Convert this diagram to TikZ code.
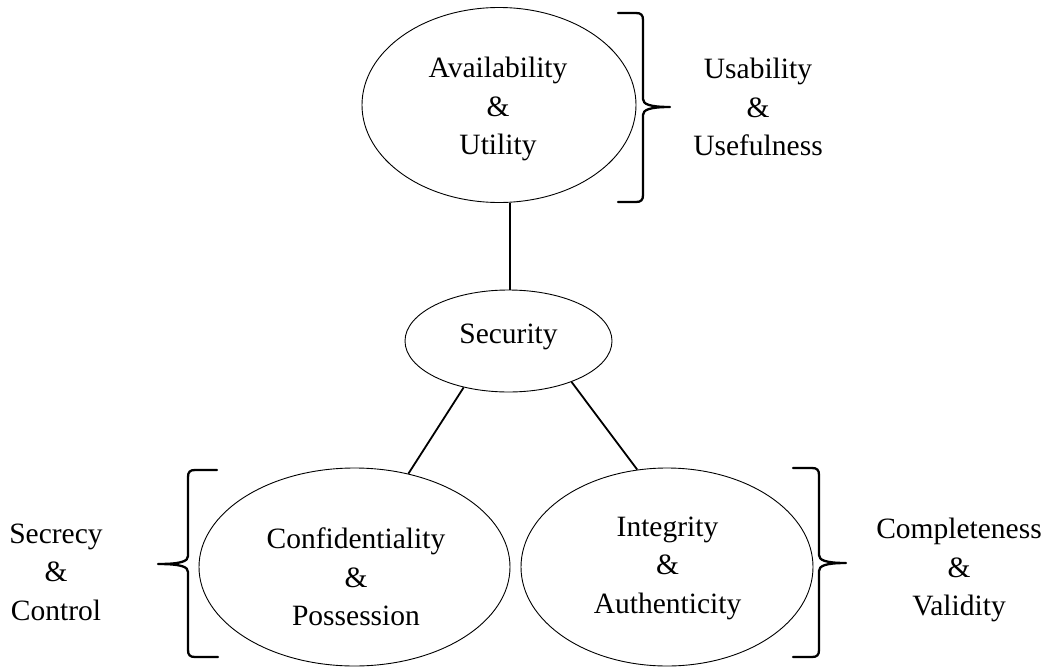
\documentclass[tikz,border=0pt]{standalone}
\usepackage{fontspec}
\setmainfont{Liberation Serif}
\usetikzlibrary{shapes.geometric}

\tikzset{
  oval/.style={ellipse, draw, inner sep=0pt, line width=0.9pt},
  txt/.style={align=center, inner sep=0pt, font=\fontsize{29.5}{38.5}\selectfont},
  link/.style={line width=1.8pt},
  brace/.style={line width=2.3pt, line cap=round, line join=round}
}

\begin{document}
\begin{tikzpicture}[x=1pt, y=-1pt]
  \useasboundingbox (0,0) rectangle (1050,672);

  % ellipses
  \node[oval, minimum width=274pt, minimum height=195pt] (avail) at (499,105) {};
  \node[oval, minimum width=207pt, minimum height=102pt] (sec) at (508.5,341) {};
  \node[oval, minimum width=311pt, minimum height=198pt] (conf) at (354.5,567) {};
  \node[oval, minimum width=292pt, minimum height=198pt] (integ) at (667,567) {};

  % texts inside the ellipses
  \node[txt] (availtext) at (498,109) {Availability\\\&\\Utility};
  \node[txt] (sectext) at (508.5,337) {Security};
  \node[txt] (conftext) at (356,577) {Confidentiality\\\&\\Possession};
  \node[txt] (integtext) at (667.5,568) {Integrity\\\&\\Authenticity};

  % side labels
  \node[txt] (usetext) at (758,107) {Usability\\\&\\Usefulness};
  \node[txt] (secrtext) at (56,572) {Secrecy\\\&\\Control};
  \node[txt] (comptext) at (959,570) {Completeness\\\&\\Validity};

  % connectors
  \draw[link] (sec.88) -- (sec.88 |- avail.south);
  \draw[link] (sec.-134.4) -- (conf.60.4);
  \draw[link] (sec.-33.7) -- (integ.107.9);

  % brace right of the top ellipse
  \draw[brace] (618,13) -- (636,13) .. controls (641,13) and (643,15) .. (643,20)
    -- (643,99) .. controls (643,104) and (649,107) .. (670,107)
    .. controls (649,107) and (643,110) .. (643,115)
    -- (643,195) .. controls (643,200) and (641,202) .. (636,202) -- (618,202);

  % brace left of the confidentiality ellipse
  \draw[brace] (217,470) -- (195,470) .. controls (190,470) and (188,472) .. (188,477)
    -- (188,556) .. controls (188,561) and (182,564) .. (158,564)
    .. controls (182,564) and (188,567) .. (188,572)
    -- (188,650) .. controls (188,655) and (190,657) .. (195,657) -- (218,657);

  % brace right of the integrity ellipse
  \draw[brace] (793,468) -- (812,468) .. controls (817,468) and (819,470) .. (819,475)
    -- (819,555) .. controls (819,560) and (825,563) .. (846,563)
    .. controls (825,563) and (819,566) .. (819,571)
    -- (819,650) .. controls (819,655) and (817,657) .. (812,657) -- (793,657);
\end{tikzpicture}
\end{document}
